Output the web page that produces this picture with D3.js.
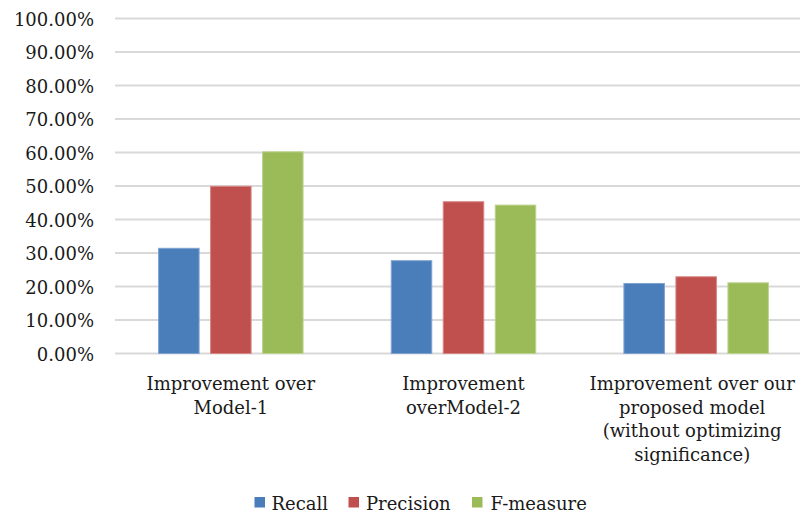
<!DOCTYPE html>
<html>
<head>
<meta charset="utf-8">
<script src="https://cdn.jsdelivr.net/npm/d3@7"></script>
<style>
  html, body { margin: 0; padding: 0; background: #fff; }
  svg { display: block; font-family: "DejaVu Serif", serif; }
</style>
</head>
<body>
<svg id="chart" width="800" height="515"></svg>
<script>
// Category labels (each entry is a list of lines)
const categories = [
  ["Improvement over", "Model-1"],
  ["Improvement", "overModel-2"],
  ["Improvement over our", "proposed model", "(without optimizing", "significance)"]
];
const categoryKeys = ["m1", "m2", "own"];

const seriesNames = ["Recall", "Precision", "F-measure"];
const seriesColors = ["#4a7ebb", "#c0504d", "#9bbb59"];
const seriesStrokes = ["#7fa3d1", "#d68583", "#bcd38e"];

const recall    = [0.314, 0.277, 0.209];
const precision = [0.499, 0.453, 0.229];
const fMeasure  = [0.602, 0.443, 0.211];
const seriesValues = [recall, precision, fMeasure];

const yTicks = [0, 0.1, 0.2, 0.3, 0.4, 0.5, 0.6, 0.7, 0.8, 0.9, 1.0];

const svg = d3.select("#chart");
const textColor = "#1a1a1a";

const y = d3.scaleLinear().domain([0, 1]).range([353.5, 18.5]);
const x = d3.scaleBand().domain(categoryKeys).range([114.5, 812.5]).padding(0);
const xs = d3.scaleBand().domain(seriesNames).range([0, x.bandwidth()])
  .paddingInner(0.221).paddingOuter(0.848);

// Horizontal gridlines
svg.append("g").selectAll("line").data(yTicks).join("line")
  .attr("x1", 115).attr("x2", 800)
  .attr("y1", d => y(d)).attr("y2", d => y(d))
  .attr("stroke", "#d9d9d9").attr("stroke-width", 2);

// Y axis labels
const yAxis = d3.axisLeft(y).tickValues(yTicks).tickSize(0).tickPadding(0)
  .tickFormat(d => (d * 100).toFixed(2) + "%");
const gy = svg.append("g").attr("transform", "translate(94,0)").call(yAxis);
gy.select(".domain").remove();
gy.selectAll("text").attr("font-size", 18).attr("font-family", "DejaVu Serif")
  .attr("fill", textColor).attr("dy", "0.38em");

// Bars
seriesNames.forEach((name, si) => {
  svg.append("g").selectAll("rect").data(seriesValues[si]).join("rect")
    .attr("x", (d, i) => x(categoryKeys[i]) + xs(name))
    .attr("width", xs.bandwidth())
    .attr("y", d => y(d))
    .attr("height", d => y(0) - y(d))
    .attr("fill", seriesColors[si])
    .attr("stroke", seriesStrokes[si])
    .attr("stroke-width", 1);
});

// Category labels; the last one is nudged left so it stays inside the chart
const labelShift = [0, 0, -4];
const catG = svg.append("g");
categories.forEach((lines, i) => {
  const cx = x(categoryKeys[i]) + x.bandwidth() / 2 + labelShift[i];
  const t = catG.append("text")
    .attr("text-anchor", "middle")
    .attr("font-size", 18)
    .attr("fill", textColor);
  lines.forEach((ln, j) => {
    t.append("tspan").attr("x", cx).attr("y", 390 + j * 23.5).text(ln);
  });
});

// Legend
const legendItems = [
  { name: "Recall", sx: 254.5, tx: 271.5 },
  { name: "Precision", sx: 348.5, tx: 366 },
  { name: "F-measure", sx: 472, tx: 490.5 }
];
const lg = svg.append("g");
legendItems.forEach((it, i) => {
  lg.append("rect").attr("x", it.sx).attr("y", 497).attr("width", 10.5).attr("height", 10.5)
    .attr("fill", seriesColors[i]);
  lg.append("text").attr("x", it.tx).attr("y", 509.5)
    .attr("font-size", 18).attr("fill", textColor).text(it.name);
});
</script>
</body>
</html>
